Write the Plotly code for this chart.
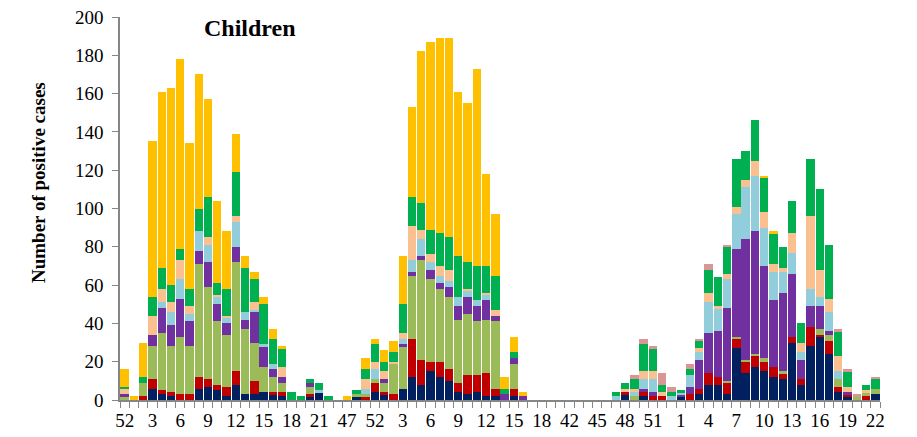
import plotly.graph_objects as go

# Week label for every bar (82 bars over three seasons)
weeks = (["52"] + [str(w) for w in range(1, 23)]
         + ["23", "47", "49", "51", "52"] + [str(w) for w in range(1, 21)]
         + [str(w) for w in range(42, 54)] + [str(w) for w in range(1, 23)])

navy = [0, 0, 0, 6, 3, 2, 0, 0, 6, 7,
        5, 2, 8, 3, 3, 4, 3, 2, 0, 0,
        2, 4, 0, 0, 0, 2, 0, 4, 3, 0,
        6, 12, 8, 15, 12, 10, 4, 3, 4, 2,
        2, 0, 2, 0, 0, 0, 0, 0, 0, 0,
        0, 0, 0, 0, 3, 0, 2, 0, 0, 0,
        2, 0, 3, 8, 8, 3, 27, 14, 17, 15,
        12, 11, 30, 8, 28, 33, 24, 4, 2, 0,
        0, 3]
red = [0, 0, 2, 5, 2, 2, 3, 3, 6, 4,
       3, 5, 7, 0, 7, 0, 1, 2, 0, 0,
       1, 0, 0, 0, 0, 0, 2, 5, 1, 3,
       0, 20, 13, 5, 8, 6, 5, 10, 9, 12,
       4, 0, 4, 0, 0, 0, 0, 0, 0, 0,
       0, 0, 0, 0, 1, 0, 2, 2, 2, 0,
       0, 3, 3, 6, 4, 6, 5, 6, 6, 5,
       5, 3, 3, 3, 10, 1, 7, 3, 1, 0,
       2, 0]
olive = [2, 0, 7, 17, 30, 24, 30, 25, 59, 48,
         33, 27, 57, 34, 20, 13, 8, 5, 0, 0,
         4, 0, 0, 0, 0, 1, 1, 2, 5, 16,
         22, 33, 52, 43, 38, 38, 33, 32, 28, 28,
         35, 0, 13, 0, 0, 0, 0, 0, 0, 0,
         0, 0, 0, 0, 0, 2, 0, 0, 0, 0,
         0, 0, 0, 0, 0, 1, 1, 1, 1, 2,
         0, 1, 0, 0, 0, 3, 3, 4, 0, 2,
         2, 3]
purple = [1, 0, 0, 6, 13, 11, 20, 13, 7, 13,
          9, 6, 8, 5, 16, 11, 4, 3, 0, 0,
          2, 0, 0, 0, 0, 0, 0, 0, 2, 0,
          1, 2, 2, 5, 3, 5, 7, 9, 8, 10,
          3, 3, 3, 2, 0, 0, 0, 0, 0, 0,
          0, 0, 0, 0, 0, 0, 2, 2, 0, 0,
          1, 4, 15, 21, 24, 38, 46, 63, 64, 48,
          35, 41, 33, 10, 11, 12, 2, 0, 1, 0,
          0, 0]
lightblue = [0, 0, 0, 0, 3, 7, 10, 4, 10, 9,
             4, 3, 13, 4, 1, 1, 3, 0, 0, 0,
             0, 1, 0, 0, 0, 0, 3, 5, 0, 0,
             3, 6, 9, 4, 4, 3, 5, 3, 3, 3,
             0, 0, 0, 0, 0, 0, 0, 0, 0, 0,
             0, 0, 0, 2, 0, 2, 5, 7, 0, 2,
             1, 6, 4, 16, 12, 15, 18, 27, 29, 20,
             15, 11, 11, 4, 9, 5, 10, 4, 0, 0,
             0, 0]
peach = [3, 0, 0, 10, 7, 5, 10, 4, 0, 4,
         1, 1, 3, 0, 4, 0, 0, 5, 0, 0,
         0, 0, 0, 0, 0, 0, 5, 4, 4, 1,
         3, 18, 5, 4, 5, 6, 0, 1, 0, 1,
         3, 0, 0, 0, 0, 0, 0, 0, 0, 0,
         0, 0, 0, 0, 2, 2, 4, 4, 2, 0,
         0, 0, 2, 5, 1, 3, 4, 4, 8, 8,
         4, 2, 10, 5, 38, 14, 7, 8, 3, 0,
         1, 0]
green = [1, 0, 3, 10, 11, 9, 6, 9, 12, 21,
         6, 14, 23, 23, 12, 21, 13, 10, 4, 2,
         2, 4, 2, 0, 0, 2, 5, 9, 5, 5,
         15, 15, 14, 13, 17, 17, 21, 14, 18, 14,
         18, 3, 3, 0, 0, 0, 0, 0, 0, 0,
         0, 0, 0, 2, 3, 5, 14, 12, 4, 2,
         1, 3, 4, 12, 15, 14, 25, 15, 21, 18,
         16, 11, 17, 10, 30, 42, 28, 13, 8, 0,
         3, 5]
gold = [9, 2, 18, 81, 92, 103, 99, 76, 70, 51,
        43, 30, 20, 6, 4, 4, 5, 1, 0, 0,
        0, 0, 0, 0, 2, 0, 6, 3, 6, 6,
        25, 47, 79, 98, 102, 104, 86, 83, 103, 48,
        32, 6, 8, 2, 0, 0, 0, 0, 0, 0,
        0, 0, 0, 0, 0, 0, 0, 0, 0, 0,
        0, 0, 0, 0, 0, 0, 0, 0, 0, 1,
        1, 0, 0, 0, 0, 0, 0, 0, 0, 0,
        0, 0]
pink = [0] * 50 + [0, 0, 0, 0, 0, 2, 3, 1, 6, 3,
                   0, 3, 1, 3, 0, 1, 0, 0, 0, 0,
                   0, 0, 0, 0, 0, 0, 0, 1, 1, 1,
                   0, 1]

series = [
    ("Series 1", navy, "#002060"),
    ("Series 2", red, "#C00000"),
    ("Series 3", olive, "#9BBB59"),
    ("Series 4", purple, "#7030A0"),
    ("Series 5", lightblue, "#92CDDC"),
    ("Series 6", peach, "#FAC090"),
    ("Series 7", green, "#00B050"),
    ("Series 8", gold, "#FFC000"),
    ("Series 9", pink, "#D99694"),
]

x = list(range(len(weeks)))
fig = go.Figure()
for name, vals, color in series:
    fig.add_trace(go.Bar(
        x=x, y=vals, name=name, customdata=weeks,
        marker=dict(color=color, line=dict(width=0)),
        hovertemplate="Week %{customdata}<br>%{y}<extra>" + name + "</extra>",
    ))

axis_col = "#868686"
fig.update_layout(
    barmode="stack", bargap=0.1,
    width=909, height=429,
    margin=dict(l=112, r=37, t=9, b=37, autoexpand=False),
    plot_bgcolor="white", paper_bgcolor="white",
    showlegend=False,
    font=dict(family="Liberation Serif", size=19, color="black"),
)
fig.update_xaxes(
    range=[-0.5, len(weeks) - 0.5], automargin=False,
    tickmode="array", tickvals=x[::3], ticktext=weeks[::3],
    ticks="", showline=True, linecolor=axis_col, linewidth=1.5,
    showgrid=False, zeroline=False, ticklabeloverflow="allow",
    ticklabelstandoff=2,
    tickfont=dict(size=19),
    minor=dict(ticks="outside", tickmode="linear", tick0=-0.5, dtick=1,
               ticklen=6, tickwidth=1.2, tickcolor=axis_col, showgrid=False),
)
fig.update_yaxes(
    range=[0, 200], dtick=20, ticks="outside", ticklen=6, tickwidth=1.2,
    automargin=False, ticklabeloverflow="allow", ticklabelstandoff=5,
    tickcolor=axis_col, showline=True, linecolor=axis_col, linewidth=1.5,
    showgrid=False, zeroline=False, tickfont=dict(size=19),
)
fig.add_annotation(
    text="<b>Number of positive cases</b>", textangle=-90,
    xref="paper", yref="paper", x=-0.108, y=0.569,
    xanchor="center", yanchor="middle",
    showarrow=False, font=dict(size=19, family="Liberation Serif"),
)
fig.add_annotation(
    text="<b>Children</b>",
    xref="paper", yref="paper", x=0.171, y=0.971,
    xanchor="center", yanchor="middle",
    showarrow=False, font=dict(size=24, family="Liberation Serif"),
)

fig.write_html("out.html")
